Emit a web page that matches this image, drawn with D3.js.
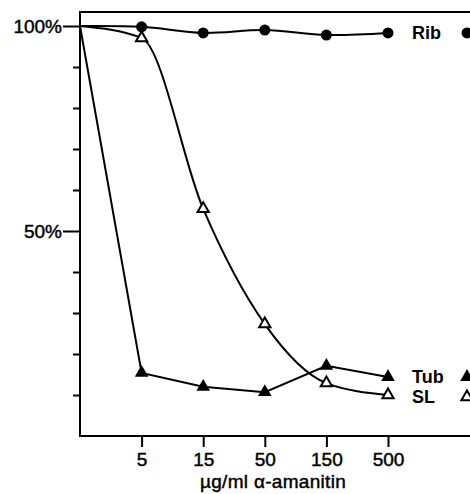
<!DOCTYPE html>
<html>
<head>
<meta charset="utf-8">
<script src="https://cdn.jsdelivr.net/npm/d3@7"></script>
<style>
  body { margin: 0; background: #fff; }
  svg { display: block; font-family: "Liberation Sans", Arial, sans-serif; }
  .lbl { stroke: #000; stroke-width: 0.45px; }
</style>
</head>
<body>
<div class="chart"></div>
<script>
// dose categories (0 = untreated start point at the y axis)
const doses = ["0", "5", "15", "50", "150", "500"];
const tickDoses = ["5", "15", "50", "150", "500"];

// % of control
const ribValues = [100, 99.8, 98.3, 99.0, 97.8, 98.3];
const tubValues = [100, 15.4, 12.0, 10.7, 17.1, 14.4];
const slValues = [100, 97.1, 55.4, 27.3, 12.9, 10.0];

const yTicks = [10, 20, 30, 40, 50, 60, 70, 80, 90, 100];
const labeledTicks = [50, 100];

const seriesNames = ["Rib", "Tub", "SL"];

const width = 470, height = 494;

const svg = d3.select(".chart")
  .append("svg")
  .attr("width", width)
  .attr("height", height);

const xScale = d3.scalePoint().domain(doses).range([80, 388]);
const yScale = d3.scaleLinear().domain([0, 100]).range([436, 26]);

// frame (open to the right)
svg.append("path")
  .attr("d", `M${width},12H80V436H${width}`)
  .attr("fill", "none")
  .attr("stroke", "#000")
  .attr("stroke-width", 2);

// y axis
const yAxis = d3.axisLeft(yScale)
  .tickValues(yTicks)
  .tickSize(7)
  .tickPadding(3)
  .tickFormat((d) => (labeledTicks.includes(d) ? d + "%" : ""));

const yg = svg.append("g")
  .attr("transform", "translate(80,0)")
  .call(yAxis);
yg.select(".domain").remove();
yg.selectAll(".tick line").attr("stroke", "#000").attr("stroke-width", 2)
  .attr("x2", (d) => (labeledTicks.includes(d) ? -17 : -7));
yg.selectAll(".tick text")
  .attr("class", "lbl")
  .attr("x", -18)
  .attr("fill", "#000")
  .style("font-size", "19px");

// x axis
const xAxis = d3.axisBottom(xScale)
  .tickValues(tickDoses)
  .tickSize(11)
  .tickPadding(6);

const xg = svg.append("g")
  .attr("transform", "translate(0,436)")
  .call(xAxis);
xg.select(".domain").remove();
xg.selectAll(".tick line").attr("stroke", "#000").attr("stroke-width", 2);
xg.selectAll(".tick text")
  .attr("class", "lbl")
  .attr("fill", "#000")
  .style("font-size", "19px");

svg.append("text")
  .attr("class", "lbl")
  .attr("x", 273)
  .attr("y", 488)
  .attr("text-anchor", "middle")
  .style("font-size", "19px")
  .style("letter-spacing", "0.3px")
  .text("\u00b5g/ml \u03b1-amanitin");

// lines
const lineSmooth = d3.line()
  .x((d, i) => xScale(doses[i]))
  .y((d) => yScale(d));

svg.append("path")
  .attr("d", lineSmooth.curve(d3.curveCatmullRom.alpha(0.5))(ribValues))
  .attr("fill", "none").attr("stroke", "#000").attr("stroke-width", 2);

svg.append("path")
  .attr("d", lineSmooth.curve(d3.curveMonotoneX)(slValues))
  .attr("fill", "none").attr("stroke", "#000").attr("stroke-width", 2);

svg.append("path")
  .attr("d", lineSmooth.curve(d3.curveLinear)(tubValues))
  .attr("fill", "none").attr("stroke", "#000").attr("stroke-width", 2);

// markers
const triFilled = d3.symbol().type(d3.symbolTriangle).size(80);
const triOpen = d3.symbol().type(d3.symbolTriangle).size(55);

const pts = (vals) => vals.map((v, i) => ({ dose: doses[i], v })).slice(1);

svg.selectAll(".rib-dot")
  .data(pts(ribValues))
  .enter()
  .append("circle")
  .attr("class", "rib-dot")
  .attr("cx", (d) => xScale(d.dose))
  .attr("cy", (d) => yScale(d.v))
  .attr("r", 5.5)
  .attr("fill", "#000");

svg.selectAll(".tub-tri")
  .data(pts(tubValues))
  .enter()
  .append("path")
  .attr("class", "tub-tri")
  .attr("transform", (d) => `translate(${xScale(d.dose)},${yScale(d.v)})`)
  .attr("d", triFilled())
  .attr("fill", "#000");

svg.selectAll(".sl-tri")
  .data(pts(slValues))
  .enter()
  .append("path")
  .attr("class", "sl-tri")
  .attr("transform", (d) => `translate(${xScale(d.dose)},${yScale(d.v)})`)
  .attr("d", triOpen())
  .attr("fill", "#fff")
  .attr("stroke", "#000")
  .attr("stroke-width", 2);

// end labels with legend symbols
const lastX = xScale("500");
const labelRows = [
  { name: seriesNames[0], v: ribValues[5], dy: 0, kind: "dot" },
  { name: seriesNames[1], v: tubValues[5], dy: 0, kind: "tri" },
  { name: seriesNames[2], v: slValues[5], dy: 2, kind: "open" },
];

labelRows.forEach((r) => {
  const y = yScale(r.v) + r.dy;
  svg.append("text")
    .attr("x", lastX + 24)
    .attr("y", y)
    .attr("dy", "0.36em")
    .style("font-size", "18px")
    .style("font-weight", "bold")
    .text(r.name);
  if (r.kind === "dot") {
    svg.append("circle").attr("cx", lastX + 79).attr("cy", y).attr("r", 5.5).attr("fill", "#000");
  } else if (r.kind === "tri") {
    svg.append("path").attr("transform", `translate(${lastX + 79},${y})`).attr("d", triFilled()).attr("fill", "#000");
  } else {
    svg.append("path").attr("transform", `translate(${lastX + 79},${y})`).attr("d", triOpen())
      .attr("fill", "#fff").attr("stroke", "#000").attr("stroke-width", 2);
  }
});
</script>
</body>
</html>
